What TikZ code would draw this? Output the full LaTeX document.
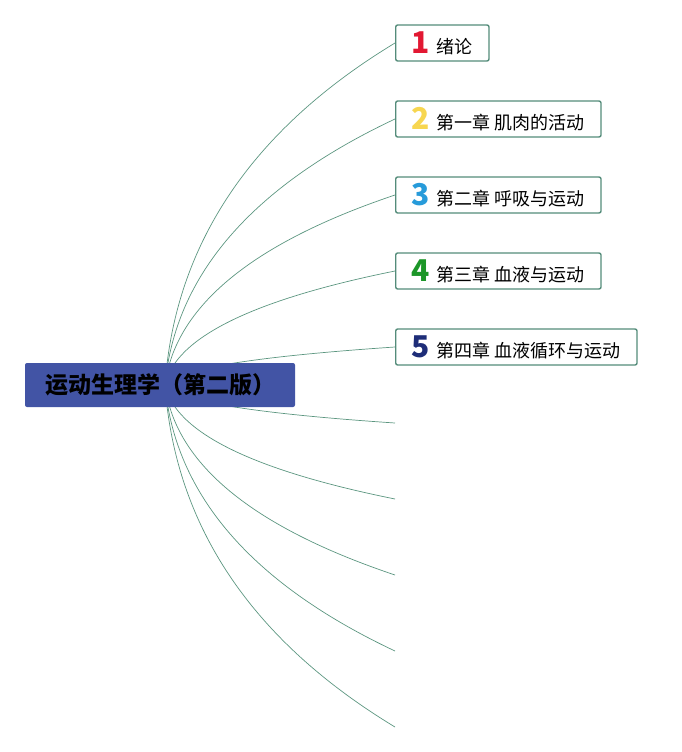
\documentclass[tikz,border=0pt]{standalone}
\usepackage{fontspec}
\newfontfamily\cjk{Noto Sans CJK SC}
\usetikzlibrary{calc,positioning}
\definecolor{rootblue}{RGB}{66,84,165}
\definecolor{boxgreen}{RGB}{84,140,122}
\definecolor{linegreen}{RGB}{92,150,128}
\definecolor{numred}{RGB}{226,24,50}
\definecolor{numyellow}{RGB}{247,214,80}
\definecolor{numblue}{RGB}{39,155,218}
\definecolor{numgreen}{RGB}{28,150,40}
\definecolor{numnavy}{RGB}{30,45,120}
\newcommand{\chapnum}[2]{{\fontsize{30}{30}\selectfont\bfseries\color{#1}#2}\hspace{7pt}}
\tikzset{
    topic/.style={draw=boxgreen, line width=1.4pt, rounded corners=2pt, fill=white, anchor=west,
        minimum height=36pt, inner xsep=16pt, inner ysep=2pt, font=\cjk\fontsize{18}{20}\selectfont},
    branch/.style={draw=linegreen, line width=0.7pt},
}

\begin{document}
\begin{tikzpicture}[x=1pt,y=-1pt]
    \useasboundingbox (0,0) rectangle (682,752);
    \coordinate (hub) at (165,385);
    \node[topic] (c1) at (395,43) {\chapnum{numred}{1}绪论};
    \node[topic] (c2) at (395,119) {\chapnum{numyellow}{2}第一章 肌肉的活动};
    \node[topic] (c3) at (395,195) {\chapnum{numblue}{3}第二章 呼吸与运动};
    \node[topic] (c4) at (395,271) {\chapnum{numgreen}{4}第三章 血液与运动};
    \node[topic] (c5) at (395,347) {\chapnum{numnavy}{5}第四章 血液循环与运动};
    \foreach \i/\yy in {6/423,7/499,8/575,9/651,10/727}
        \coordinate (e\i) at (395,\yy);
    \foreach \t/\dy in {c1.west/-342,c2.west/-266,c3.west/-190,c4.west/-114,c5.west/-38,
                        e6/38,e7/114,e8/190,e9/266,e10/342}
        \draw[branch] (hub) .. controls +(10,{0.413*(\dy)}) and +(-143,{-0.253*(\dy)}) .. (\t);
    \node[fill=rootblue, rounded corners=2pt, minimum width=270pt, minimum height=44pt,
        font=\cjk\bfseries\fontsize{23}{25}\selectfont] (root) at (160,385) {运动生理学（第二版）};
\end{tikzpicture}
\end{document}
